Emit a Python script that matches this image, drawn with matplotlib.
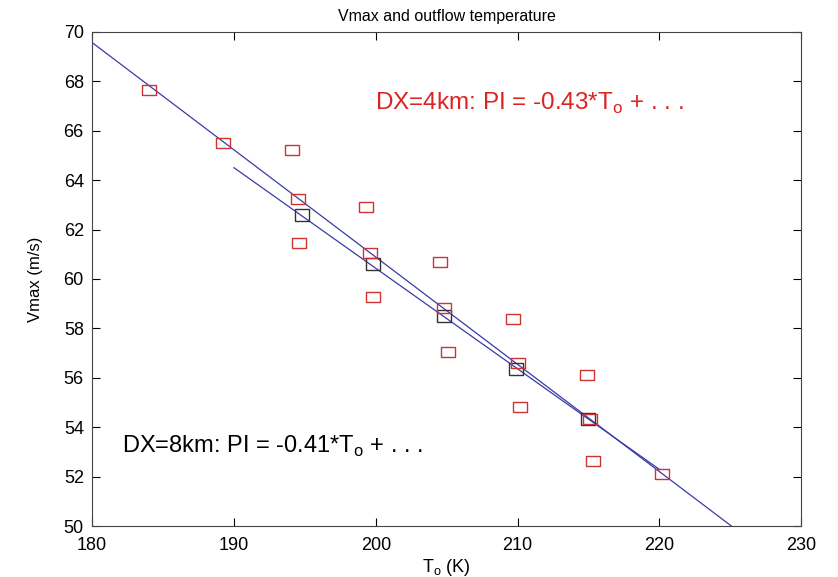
import matplotlib
matplotlib.use("Agg")
import matplotlib.pyplot as plt

plt.rcParams['font.family'] = ['Liberation Sans', 'DejaVu Sans']

# red squares (individual runs)
red_x = [184.0, 189.2, 194.1, 194.5, 194.6, 199.3, 199.6, 199.8, 204.5, 204.8, 205.1,
         209.7, 210.0, 210.2, 214.9, 215.1, 215.3, 220.2]
red_y = [67.65, 65.48, 65.22, 63.24, 61.44, 62.92, 61.04, 59.26, 60.68, 58.82, 57.05,
         58.40, 56.60, 54.84, 56.10, 54.34, 52.62, 52.10]

# black squares (means)
blk_x = [194.8, 199.8, 204.8, 209.9, 215.0]
blk_y = [62.58, 60.60, 58.52, 56.36, 54.35]

# fitted lines (end points)
fit4_x = [180.0, 225.1]
fit4_y = [69.56, 50.0]
fit8_x = [190.0, 220.0]
fit8_y = [64.50, 52.30]

red_rect = [(-1.4, -1), (1.4, -1), (1.4, 1), (-1.4, 1), (-1.4, -1)]
blk_rect = [(-1.2, -1), (1.2, -1), (1.2, 1), (-1.2, 1), (-1.2, -1)]

fig = plt.figure(figsize=(8.38, 5.77), dpi=100)
ax = fig.add_axes([0.110, 0.088, 0.846, 0.857])

ax.plot(fit4_x, fit4_y, color='#3a3aa8', lw=0.9)
ax.plot(fit8_x, fit8_y, color='#3a3aa8', lw=0.9)
ax.plot(blk_x, blk_y, ls='none', marker=blk_rect, ms=10.5, mfc='none', mec='#333333', mew=1.0)
ax.plot(red_x, red_y, ls='none', marker=red_rect, ms=10.5, mfc='none', mec='#cc3333', mew=1.0)

ax.text(199.95, 66.84, 'DX=4km: PI = -0.43*T$_\\mathregular{o}$ + . . .', color='#dd2222',
        fontsize=17.5, va='baseline')
ax.text(182.1, 52.96, 'DX=8km: PI = -0.41*T$_\\mathregular{o}$ + . . .', color='black',
        fontsize=17, va='baseline')

ax.set_xlim(180, 230)
ax.set_ylim(50, 70)
ax.set_xticks(range(180, 231, 10))
ax.set_yticks(range(50, 71, 2))
ax.tick_params(direction='in', top=True, right=True, labelsize=13, length=6)
ax.tick_params(axis='x', pad=8)
ax.tick_params(axis='y', pad=6)
for s in ax.spines.values():
    s.set_linewidth(0.8)
    s.set_color('#444444')

ax.set_title('Vmax and outflow temperature', fontsize=11.5, pad=8)
ax.set_xlabel('T$_\\mathregular{o}$ (K)', fontsize=13, labelpad=2)
ax.set_ylabel('Vmax (m/s)', fontsize=12)
ax.yaxis.set_label_coords(-0.07, 0.5)

fig.savefig('out.png', dpi=100)
